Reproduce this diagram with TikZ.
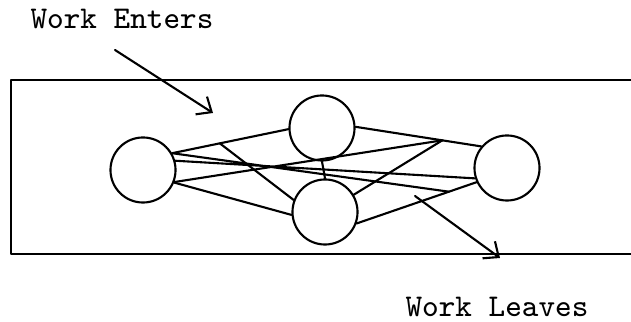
\documentclass[tikz,border=0pt]{standalone}
\usetikzlibrary{arrows.meta}
\begin{document}
\begin{tikzpicture}[x=0.01cm,y=-0.01cm,>={Straight Barb[length=3.5pt,width=6pt]}, line width=0.6pt, line join=round, line cap=round, font=\ttfamily\fontsize{9}{11}\selectfont]
			\tikzset{circ style/.style={draw,circle,minimum size=18.5pt,inner sep=0pt}}
			\useasboundingbox (0,0) rectangle (631,322);
			\draw (631,80)--(11,80)--(11,254)--(631,254);
			\node[circ style] (L) at (143,170) {};
			\node[circ style] (T) at (322,128) {};
			\node[circ style] (B) at (325,212) {};
			\node[circ style] (R) at (507,168) {};
			\draw (L.30)--coordinate[pos=.41] (A1) (T.182);
			\draw (T.2)--coordinate[pos=.69] (A2) (R.140);
			\draw (B.-20)--coordinate[pos=.77] (A3) (R.205);
			\draw (T.south)--(B.north);
			\draw (L.-22)--(B.185);
			\draw (A1)--(B.159) (A2)--(B.31);
			\draw (L.30)--(A3) (L.16)--(R.198) (L.-21)--(A2);
			\node (enter) at (122,19) {Work Enters};
			\node (leave) at (497,307) {Work Leaves};
			\coordinate (e1) at (115,50); \coordinate (e2) at (213,113);
			\coordinate (l1) at (415,196); \coordinate (l2) at (500,258);
			\draw[->] (e1)--(e2);
			\draw[->] (l1)--(l2);
	\end{tikzpicture}
\end{document}
